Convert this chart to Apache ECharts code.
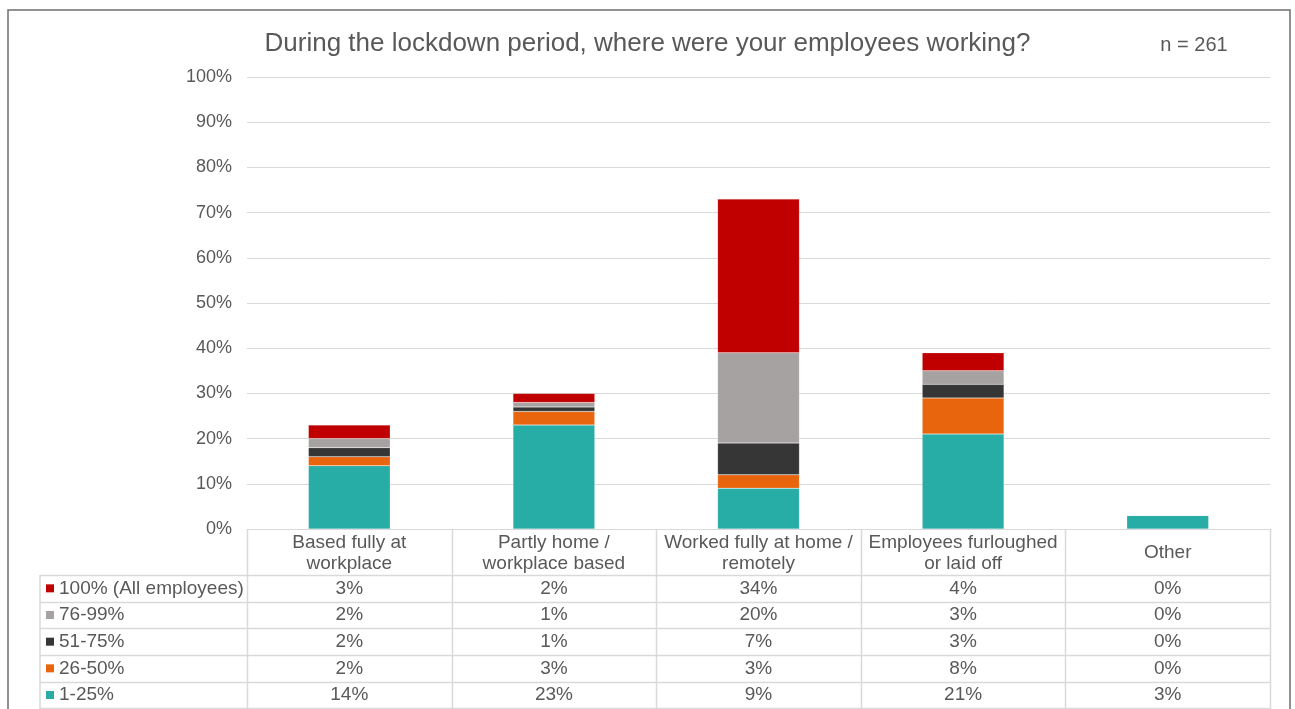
<!DOCTYPE html>
<html>
<head>
<meta charset="utf-8">
<script src="https://cdn.jsdelivr.net/npm/echarts@6/dist/echarts.min.js"></script>
<style>
  html, body { margin: 0; padding: 0; background: #ffffff; }
  #chart { width: 1295px; height: 709px; }
</style>
</head>
<body>
<div id="chart"></div>
<script>
// Work locations (columns of the data table / x categories)
const categories = [
  'Based fully at\nworkplace',
  'Partly home /\nworkplace based',
  'Worked fully at home /\nremotely',
  'Employees furloughed\nor laid off',
  'Other'
];

// Share of employees affected, % of respondents per work location
const allEmployees = [3, 2, 34, 4, 0];   // 100% (All employees)
const share76to99 = [2, 1, 20, 3, 0];    // 76-99%
const share51to75 = [2, 1, 7, 3, 0];     // 51-75%
const share26to50 = [2, 3, 3, 8, 0];     // 26-50%
const share1to25 = [14, 23, 9, 21, 3];   // 1-25%

const yTicks = [0, 10, 20, 30, 40, 50, 60, 70, 80, 90, 100];

// Table rows, top to bottom
const tableRows = [
  { name: '100% (All employees)', data: allEmployees, color: '#C00000' },
  { name: '76-99%', data: share76to99, color: '#A6A2A1' },
  { name: '51-75%', data: share51to75, color: '#363636' },
  { name: '26-50%', data: share26to50, color: '#E8650E' },
  { name: '1-25%', data: share1to25, color: '#27ACA6' }
];

const FONT = '"Liberation Sans", Arial, sans-serif';
const TEXT = '#595959';
const LINE = '#D9D9D9';

const chart = echarts.init(document.getElementById('chart'), null, { renderer: 'canvas' });

// Stack from the bottom: 1-25% first, 100% last
const stackOrder = tableRows.slice().reverse();

chart.setOption({
  animation: false,
  backgroundColor: '#ffffff',
  title: {
    text: 'During the lockdown period, where were your employees working?',
    left: 'center',
    top: 26,
    textStyle: { fontFamily: FONT, fontSize: 26, fontWeight: 'normal', color: TEXT }
  },
  grid: { left: 247, right: 25, top: 77, bottom: 180 },
  xAxis: {
    type: 'category',
    data: categories,
    axisLine: { lineStyle: { color: LINE, width: 1 } },
    axisTick: { show: false },
    axisLabel: { show: false }
  },
  yAxis: {
    type: 'value',
    min: yTicks[0],
    max: yTicks[yTicks.length - 1],
    interval: 10,
    axisLine: { show: false },
    axisTick: { show: false },
    axisLabel: {
      formatter: '{value}%',
      fontFamily: FONT, fontSize: 18, color: TEXT, margin: 15
    },
    splitLine: { lineStyle: { color: LINE, width: 1 } }
  },
  series: stackOrder.map(r => ({
    name: r.name,
    type: 'bar',
    stack: 'total',
    barWidth: '40%',
    data: r.data,
    itemStyle: { color: r.color, borderColor: 'rgba(255,255,255,0.35)', borderWidth: 0.5 }
  }))
});

// Data table below the plot, aligned to the category bands of the x axis
function buildTable() {
  const c0 = chart.convertToPixel({ xAxisIndex: 0 }, 0);
  const c1 = chart.convertToPixel({ xAxisIndex: 0 }, 1);
  const band = c1 - c0;
  const left = c0 - band / 2;
  const right = left + band * categories.length;
  const top = chart.convertToPixel({ yAxisIndex: 0 }, 0);
  const headerH = 46;
  const rowH = 26.67;
  const legendLeft = 40;
  const bottom = top + headerH + rowH * tableRows.length;
  const els = [];

  // Outer chart frame
  els.push({
    type: 'rect', silent: true, z: 0,
    shape: { x: 8, y: 10, width: 1282, height: 730 },
    style: { fill: 'none', stroke: '#6E6E6E', lineWidth: 1.5 }
  });

  // Sample size note
  els.push({
    type: 'text', z: 10,
    style: { text: 'n = 261', x: 1194, y: 45, align: 'center', verticalAlign: 'middle',
             font: '20px ' + FONT, fill: TEXT }
  });

  // Vertical grid lines of the table
  for (let i = 0; i <= categories.length; i++) {
    const x = Math.round(left + band * i) + 0.5;
    els.push({ type: 'line', z: 10, shape: { x1: x, y1: top, x2: x, y2: bottom + 10 },
               style: { stroke: LINE, lineWidth: 1.5 } });
  }
  els.push({ type: 'line', z: 10, shape: { x1: legendLeft, y1: top + headerH, x2: legendLeft, y2: bottom + 10 },
             style: { stroke: LINE, lineWidth: 1.5 } });

  // Horizontal grid lines of the table
  for (let j = 0; j <= tableRows.length; j++) {
    const y = Math.round(top + headerH + rowH * j) + 0.5;
    els.push({ type: 'line', z: 10, shape: { x1: legendLeft, y1: y, x2: right, y2: y },
               style: { stroke: LINE, lineWidth: 1.5 } });
  }

  // Header: category names
  categories.forEach((c, i) => {
    els.push({
      type: 'text', z: 11,
      style: { text: c, x: left + band * (i + 0.5), y: top + headerH / 2 + 1,
               align: 'center', verticalAlign: 'middle', lineHeight: 21,
               font: '19px ' + FONT, fill: TEXT }
    });
  });

  // Rows: legend key + values
  tableRows.forEach((r, j) => {
    const yMid = top + headerH + rowH * (j + 0.5);
    els.push({ type: 'rect', z: 11, shape: { x: 46, y: yMid - 4, width: 8, height: 8 },
               style: { fill: r.color } });
    els.push({
      type: 'text', z: 11,
      style: { text: r.name, x: 59, y: yMid, align: 'left', verticalAlign: 'middle',
               font: '19px ' + FONT, fill: TEXT }
    });
    r.data.forEach((v, i) => {
      els.push({
        type: 'text', z: 11,
        style: { text: v + '%', x: left + band * (i + 0.5), y: yMid,
                 align: 'center', verticalAlign: 'middle',
                 font: '19px ' + FONT, fill: TEXT }
      });
    });
  });

  chart.setOption({ graphic: { elements: els } });
}

buildTable();
</script>
</body>
</html>
